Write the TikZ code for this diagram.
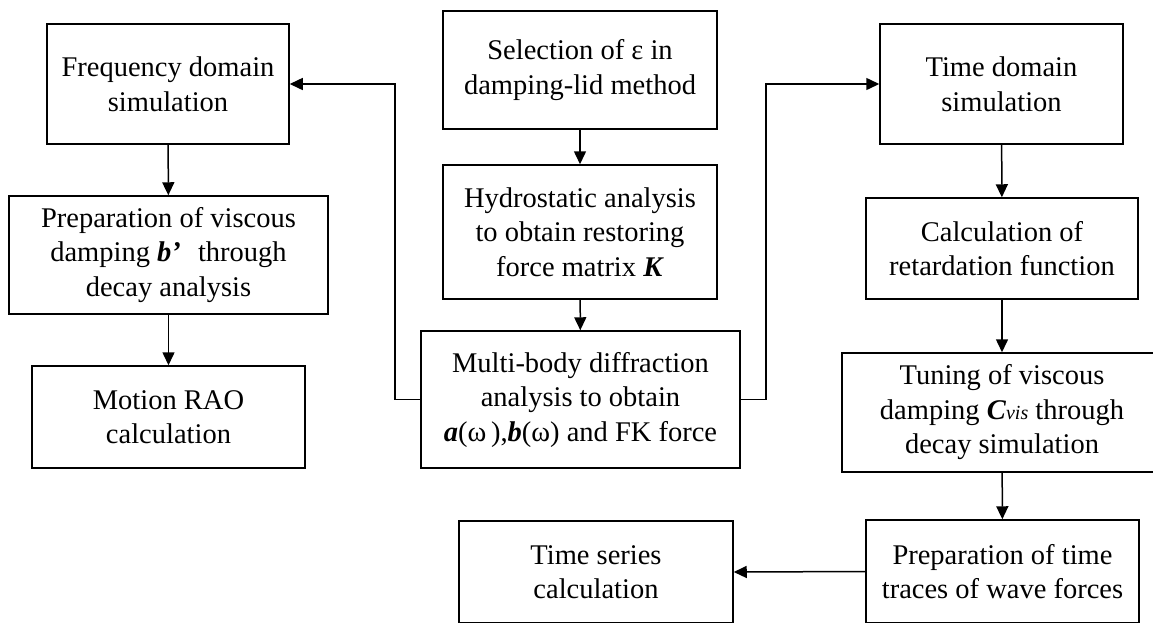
\documentclass[tikz,border=0pt]{standalone}
\usepackage{fontspec}
\setmainfont{Liberation Serif}
\usetikzlibrary{arrows.meta}
\tikzset{
  box/.style={draw, line width=1.5pt, align=center, inner sep=0pt,
    font=\fontsize{28.5}{34.5}\selectfont},
  arr/.style={line width=1.5pt, -{Triangle[length=13pt,width=12pt]}}
}
\begin{document}
\begin{tikzpicture}[x=1pt,y=-1pt]
\useasboundingbox (0,0) rectangle (1153,622);
\clip (0,0) rectangle (1153,622);
% left column
\node[box, minimum width=242, minimum height=120] (freq) at (168,84) {Frequency domain\\simulation};
\node[box, minimum width=319, minimum height=118] (prep) at (168.5,255) {Preparation of viscous\\damping \textbf{\textit{b’}}\hspace{0.6em}through\\decay analysis};
\node[box, minimum width=273, minimum height=102] (rao) at (168.5,417) {Motion RAO\\calculation};
% middle column
\node[box, minimum width=274, minimum height=118] (sel) at (580,70) {Selection of ε in\\damping-lid method};
\node[box, minimum width=274, minimum height=134] (hyd) at (580,232) {Hydrostatic analysis\\to obtain restoring\\force matrix \textbf{\textit{K}}};
\node[box, minimum width=319, minimum height=137] (multi) at (580.5,399.5) {Multi-body diffraction\\analysis to obtain\\\textbf{\textit{a}}(ω\,),\textbf{\textit{b}}(ω) and FK force};
\node[box, minimum width=274, minimum height=102] (ts) at (596,572) {Time series\\calculation};
% right column
\node[box, minimum width=243, minimum height=120] (time) at (1001.5,84) {Time domain\\simulation};
\node[box, minimum width=272, minimum height=101] (calc) at (1002,248.5) {Calculation of\\retardation function};
\node[box, minimum width=320, minimum height=119] (tune) at (1002,412.5) {Tuning of viscous\\damping \textbf{\textit{C}}{\fontsize{20}{20}\selectfont\textit{vis}} through\\decay simulation};
\node[box, minimum width=273, minimum height=103] (prept) at (1002.5,571.5) {Preparation of time\\traces of wave forces};
% junction coordinates
\coordinate (jl) at (395,0);
\coordinate (jr) at (766,0);
% connectors
\draw[arr] (freq) -- (prep);
\draw[arr] (prep) -- (rao);
\draw[arr] (sel) -- (hyd);
\draw[arr] (hyd) -- (multi);
\draw[arr] (multi.west) -- (multi.west -| jl) |- (freq.east);
\draw[arr] (multi.east) -- (multi.east -| jr) |- (time.west);
\draw[arr] (time) -- (calc);
\draw[arr] (calc) -- (tune);
\draw[arr] (tune) -- (prept);
\draw[arr] (prept.west) -- (ts.east);
\end{tikzpicture}
\end{document}
